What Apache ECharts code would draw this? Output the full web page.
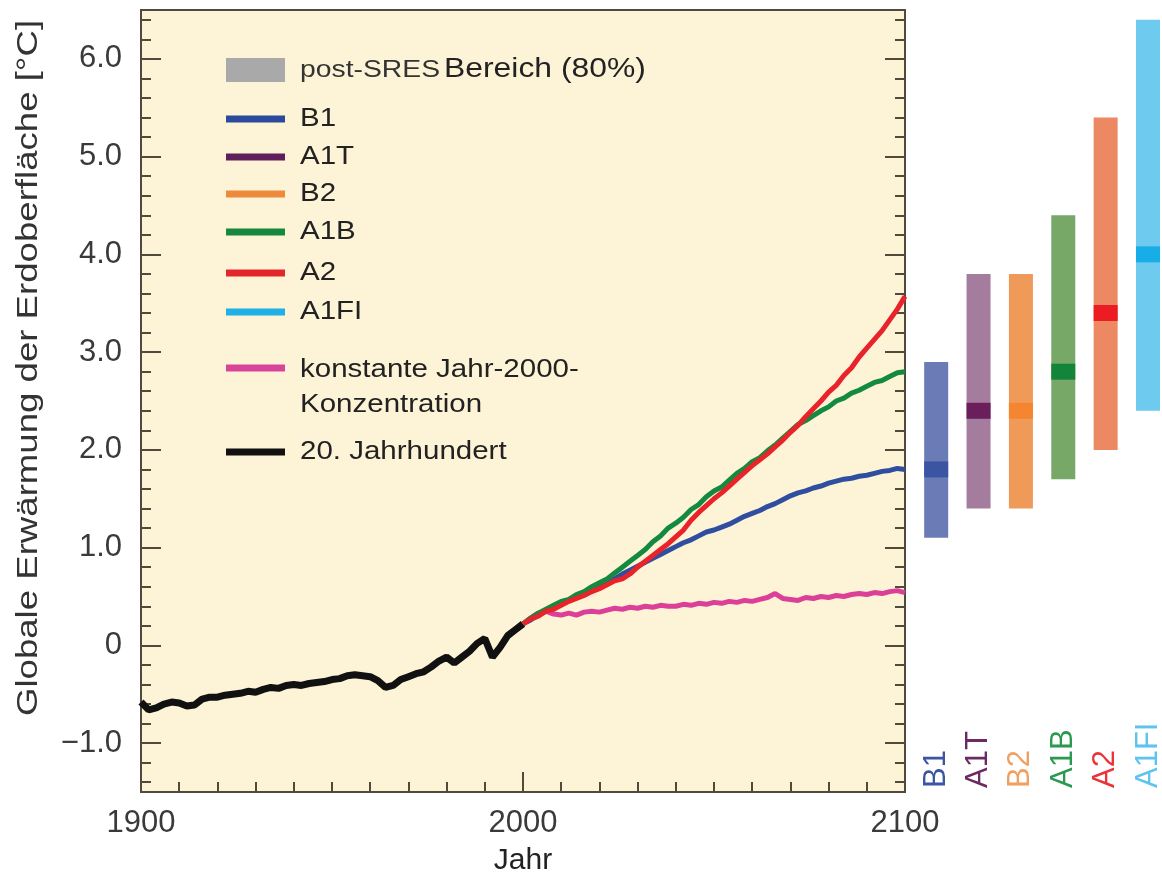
<!DOCTYPE html>
<html><head><meta charset="utf-8">
<script src="https://cdn.jsdelivr.net/npm/echarts@6/dist/echarts.min.js"></script>
<style>html,body{margin:0;padding:0;background:#fff}#c{width:1162px;height:878px}</style>
</head><body><div id="c"></div>
<script>
const FONT = "'Liberation Sans', Arial, Helvetica, sans-serif";

// 20th century (model mean), 2-year steps
const years20 = [1900,1902,1904,1906,1908,1910,1912,1914,1916,1918,1920,1922,1924,1926,1928,1930,1932,1934,1936,1938,1940,1942,1944,1946,1948,1950,1952,1954,1956,1958,1960,1962,1964,1966,1968,1970,1972,1974,1976,1978,1980,1982,1984,1986,1988,1990,1992,1994,1996,1998,2000];
const hist20 = [-0.58,-0.66,-0.64,-0.60,-0.58,-0.59,-0.62,-0.61,-0.55,-0.53,-0.53,-0.51,-0.50,-0.49,-0.47,-0.48,-0.45,-0.43,-0.44,-0.41,-0.40,-0.41,-0.39,-0.38,-0.37,-0.35,-0.34,-0.31,-0.30,-0.31,-0.32,-0.36,-0.43,-0.41,-0.35,-0.32,-0.29,-0.27,-0.22,-0.16,-0.12,-0.18,-0.12,-0.06,0.02,0.07,-0.12,-0.02,0.10,0.16,0.22];

// 21st century scenarios, 2-year steps
const years21 = [2000,2002,2004,2006,2008,2010,2012,2014,2016,2018,2020,2022,2024,2026,2028,2030,2032,2034,2036,2038,2040,2042,2044,2046,2048,2050,2052,2054,2056,2058,2060,2062,2064,2066,2068,2070,2072,2074,2076,2078,2080,2082,2084,2086,2088,2090,2092,2094,2096,2098,2100];
const constComp = [0.22,0.28,0.33,0.35,0.32,0.31,0.33,0.31,0.34,0.35,0.34,0.36,0.38,0.37,0.39,0.38,0.40,0.39,0.41,0.40,0.40,0.42,0.41,0.43,0.42,0.44,0.43,0.45,0.44,0.46,0.45,0.47,0.49,0.53,0.48,0.47,0.46,0.49,0.48,0.50,0.49,0.51,0.50,0.52,0.53,0.52,0.54,0.53,0.55,0.56,0.54];
const sresB1 = [0.22,0.26,0.31,0.35,0.39,0.42,0.46,0.49,0.53,0.57,0.60,0.64,0.68,0.73,0.77,0.81,0.85,0.89,0.93,0.97,1.01,1.05,1.08,1.12,1.16,1.18,1.21,1.24,1.28,1.32,1.35,1.38,1.42,1.45,1.49,1.53,1.56,1.58,1.61,1.63,1.66,1.68,1.70,1.71,1.73,1.74,1.76,1.78,1.79,1.81,1.80];
const sresA1B = [0.22,0.28,0.33,0.37,0.41,0.45,0.47,0.52,0.55,0.60,0.64,0.68,0.74,0.80,0.86,0.92,0.98,1.06,1.12,1.20,1.25,1.31,1.39,1.44,1.52,1.58,1.62,1.69,1.76,1.81,1.88,1.92,1.99,2.05,2.12,2.19,2.26,2.30,2.35,2.40,2.44,2.50,2.53,2.58,2.61,2.65,2.69,2.71,2.75,2.79,2.80];
const sresA2 = [0.22,0.27,0.30,0.35,0.37,0.41,0.45,0.48,0.51,0.55,0.58,0.62,0.66,0.68,0.73,0.80,0.86,0.92,0.98,1.04,1.11,1.18,1.28,1.36,1.43,1.50,1.56,1.63,1.70,1.77,1.84,1.90,1.96,2.03,2.10,2.18,2.25,2.34,2.42,2.50,2.59,2.66,2.76,2.84,2.95,3.04,3.13,3.22,3.33,3.44,3.57];

// Scenario ranges for 2090-2099 (likely range and best estimate)
const scenarios = ['B1','A1T','B2','A1B','A2','A1FI'];
const rangeLow  = [1.1, 1.4, 1.4, 1.7, 2.0, 2.4];
const rangeHigh = [2.9, 3.8, 3.8, 4.4, 5.4, 6.4];
const bestEst   = [1.8, 2.4, 2.4, 2.8, 3.4, 4.0];
const scenarioIdx = [0,1,2,3,4,5];

// tick positions
const yMajorTicks = [-1,0,1,2,3,4,5,6];
const yMinorTicks = [-1.4,-1.2,-0.8,-0.6,-0.4,-0.2,0.2,0.4,0.6,0.8,1.2,1.4,1.6,1.8,2.2,2.4,2.6,2.8,3.2,3.4,3.6,3.8,4.2,4.4,4.6,4.8,5.2,5.4,5.6,5.8,6.2,6.4];

// styles
const barColors  = ['#6a7bb6','#a47c9e','#f09a5a','#77a868','#ec8862','#6ecbef'];
const bestColors = ['#3c55a3','#6a1f5b','#f5852f','#12853a','#ec1c24','#17ade6'];
const labelColors= ['#3c56a4','#6b2a63','#f0a060','#2a9a50','#e8353a','#5cc4ee'];
const C_BLACK='#111111', C_PINK='#dc3f98', C_B1='#2f4ea0', C_A1B='#138a40', C_A2='#e8232a';
const AX = '#4f4a3c';

const legendItems = [
  {label:'B1', color:'#2b4a9e', y:119},
  {label:'A1T', color:'#5e1f5a', y:157},
  {label:'B2', color:'#ee8a3c', y:194},
  {label:'A1B', color:'#16873f', y:232},
  {label:'A2', color:'#e3262b', y:273},
  {label:'A1FI', color:'#1eb0e6', y:312},
  {label:'konstante Jahr-2000-\nKonzentration', color:'#d9449a', y:368, multi:true},
  {label:'20. Jahrhundert', color:'#111111', y:452}
];

const pair = (xs, ys) => xs.map((x,i)=>[x, ys[i]]);

const graphic = [
  {type:'rect', shape:{x:226,y:58,width:59,height:24}, style:{fill:'#a9a9a9'}, z:10},
  {type:'text', x:300, y:70, scaleX:1.18, z:10,
   style:{text:'{a|post-SRES} {b|Bereich (80%)}', verticalAlign:'middle', fontFamily:FONT,
     rich:{a:{fontSize:24, fill:'#333', fontFamily:FONT}, b:{fontSize:27, fill:'#222', fontFamily:FONT}}}},
  {type:'text', x:29, y:368, rotation:Math.PI/2, scaleX:1.22, z:10,
   style:{text:'Globale Erwärmung der Erdoberfläche [°C]', fontSize:30, fontFamily:FONT, fill:'#333', align:'center', verticalAlign:'middle'}}
];
legendItems.forEach(it => {
  graphic.push({type:'rect', shape:{x:226, y:it.y-3.5, width:59, height:7}, style:{fill:it.color}, z:10});
  if (it.multi) {
    graphic.push({type:'text', x:300, y:it.y-15, scaleX:1.18, z:10,
      style:{text:it.label, fontSize:25, lineHeight:35, fontFamily:FONT, fill:'#222', verticalAlign:'top'}});
  } else {
    graphic.push({type:'text', x:300, y:it.y, scaleX:1.18, z:10,
      style:{text:it.label, fontSize:25, fontFamily:FONT, fill:'#222', verticalAlign:'middle'}});
  }
});

const richLabels = {};
scenarios.forEach((s,i)=>{ richLabels['s'+i] = {color:labelColors[i], fontSize:31, fontFamily:FONT}; });

const yBase = {min:-1.5, max:6.5, gridIndex:0, splitLine:{show:false}, axisLine:{show:false, onZero:false}};

const option = {
  animation:false,
  backgroundColor:'#ffffff',
  textStyle:{fontFamily:FONT},
  grid:[
    {left:141, top:10, width:764, height:782, show:true, backgroundColor:'#fdf3d6', borderColor:AX, borderWidth:2, outerBoundsMode:'none'},
    {left:915, top:10, width:247, height:782, show:false, outerBoundsMode:'none'}
  ],
  xAxis:[
    {type:'value', gridIndex:0, min:1900, max:2100, interval:100,
     axisLine:{show:false, onZero:false}, splitLine:{show:false},
     axisTick:{show:true, inside:true, length:20, lineStyle:{color:AX, width:2}},
     minorTick:{show:true, splitNumber:10, length:10, lineStyle:{color:AX, width:2}},
     axisLabel:{fontSize:31, color:'#3a3a3a', margin:16, fontFamily:FONT, formatter:(v)=>String(v)},
     name:'Jahr', nameLocation:'middle', nameGap:54,
     nameTextStyle:{fontSize:30, color:'#222', fontFamily:FONT}},
    {type:'value', gridIndex:1, min:-0.5, max:5.33,
     axisLine:{show:false, onZero:false}, axisTick:{show:false}, splitLine:{show:false},
     axisLabel:{show:true, inside:true, rotate:90, margin:4, customValues:scenarioIdx,
       formatter:(v)=>'{s'+v+'|'+scenarios[v]+'}', rich:richLabels}}
  ],
  yAxis:[
    Object.assign({}, yBase, {position:'left',
      axisTick:{show:true, inside:true, length:20, customValues:yMajorTicks, lineStyle:{color:AX, width:2}},
      axisLabel:{show:true, customValues:yMajorTicks, fontSize:31, color:'#3a3a3a', margin:19, fontFamily:FONT,
        formatter:(v)=> v===0 ? '0' : (v<0 ? '\u2212' : '') + Math.abs(v).toFixed(1)}}),
    Object.assign({}, yBase, {position:'right',
      axisTick:{show:true, inside:true, length:20, customValues:yMajorTicks, lineStyle:{color:AX, width:2}},
      axisLabel:{show:false}}),
    Object.assign({}, yBase, {position:'left',
      axisTick:{show:true, inside:true, length:10, customValues:yMinorTicks, lineStyle:{color:AX, width:2}},
      axisLabel:{show:false}}),
    Object.assign({}, yBase, {position:'right',
      axisTick:{show:true, inside:true, length:10, customValues:yMinorTicks, lineStyle:{color:AX, width:2}},
      axisLabel:{show:false}}),
    {type:'value', gridIndex:1, min:-1.5, max:6.5, show:false, splitLine:{show:false}}
  ],
  graphic: graphic,
  series:[
    {type:'line', name:'20. Jahrhundert', xAxisIndex:0, yAxisIndex:0, data:pair(years20, hist20), showSymbol:false, lineStyle:{color:C_BLACK, width:7}, z:3},
    {type:'line', name:'konstant', xAxisIndex:0, yAxisIndex:0, data:pair(years21, constComp), showSymbol:false, lineStyle:{color:C_PINK, width:5}, z:3},
    {type:'line', name:'B1', xAxisIndex:0, yAxisIndex:0, data:pair(years21, sresB1), showSymbol:false, lineStyle:{color:C_B1, width:5}, z:3},
    {type:'line', name:'A1B', xAxisIndex:0, yAxisIndex:0, data:pair(years21, sresA1B), showSymbol:false, lineStyle:{color:C_A1B, width:5}, z:3},
    {type:'line', name:'A2', xAxisIndex:0, yAxisIndex:0, data:pair(years21, sresA2), showSymbol:false, lineStyle:{color:C_A2, width:5}, z:3},
    {type:'custom', name:'Bereiche', xAxisIndex:1, yAxisIndex:4,
     data: scenarioIdx.map(i=>[i, rangeLow[i], rangeHigh[i], bestEst[i]]),
     renderItem:(params, api)=>{
       const i = api.value(0);
       const top = api.coord([i, api.value(2)]);
       const bot = api.coord([i, api.value(1)]);
       const b = api.coord([i, api.value(3)]);
       const w = 24;
       return {type:'group', children:[
         {type:'rect', shape:{x:top[0]-w/2, y:top[1], width:w, height:bot[1]-top[1]}, style:{fill:barColors[i]}},
         {type:'rect', shape:{x:b[0]-w/2, y:b[1]-8, width:w, height:16}, style:{fill:bestColors[i]}}
       ]};
     }}
  ]
};
const chart = echarts.init(document.getElementById('c'), null, {renderer:'canvas'});
chart.setOption(option);
</script>
</body></html>
